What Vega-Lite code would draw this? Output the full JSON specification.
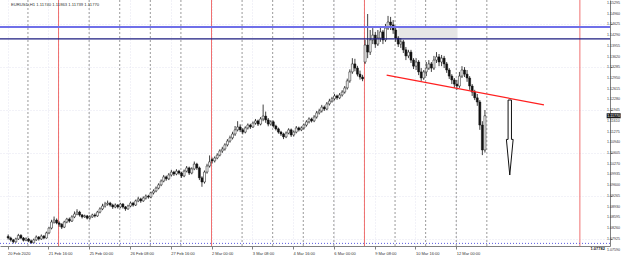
{
  "$schema": "https://vega.github.io/schema/vega-lite/v6.json",
  "width": 610,
  "height": 246,
  "autosize": {"type": "none"},
  "padding": {"left": 0, "top": 0, "right": 15, "bottom": 12},
  "background": "white",
  "config": {"view": {"stroke": null}, "font": "Liberation Sans", "axisX": {"labelOverlap": false, "labelFlush": false, "labelBound": false}},
  "title": {"text": "EURUSD,H1  1.11740 1.11863 1.11739 1.11770", "anchor": "start", "frame": "group", "offset": -8, "dx": 11, "fontSize": 4.2, "fontWeight": "normal", "color": "#333333"},
  "datasets": {
    "bars": [
      {"i":0.5,"o":1.0800,"h":1.0806,"l":1.0790,"c":1.0795},
      {"i":2.5,"o":1.0795,"h":1.0799,"l":1.0784,"c":1.0789},
      {"i":4.5,"o":1.0789,"h":1.0792,"l":1.0778,"c":1.0783},
      {"i":6.5,"o":1.0783,"h":1.0796,"l":1.0780,"c":1.0792},
      {"i":8.5,"o":1.0792,"h":1.0808,"l":1.0789,"c":1.0803},
      {"i":10.5,"o":1.0803,"h":1.0807,"l":1.0791,"c":1.0795},
      {"i":12.5,"o":1.0795,"h":1.0798,"l":1.0784,"c":1.0788},
      {"i":14.5,"o":1.0788,"h":1.0797,"l":1.0785,"c":1.0792},
      {"i":16.5,"o":1.0792,"h":1.0795,"l":1.0782,"c":1.0786},
      {"i":18.5,"o":1.0786,"h":1.0790,"l":1.0777,"c":1.0780},
      {"i":20.5,"o":1.0780,"h":1.0793,"l":1.0778,"c":1.0789},
      {"i":22.5,"o":1.0789,"h":1.0803,"l":1.0786,"c":1.0798},
      {"i":24.5,"o":1.0798,"h":1.0801,"l":1.0787,"c":1.0792},
      {"i":26.5,"o":1.0792,"h":1.0806,"l":1.0789,"c":1.0801},
      {"i":28.5,"o":1.0801,"h":1.0804,"l":1.0791,"c":1.0795},
      {"i":30.5,"o":1.0795,"h":1.0815,"l":1.0793,"c":1.0811},
      {"i":32.5,"o":1.0811,"h":1.0830,"l":1.0807,"c":1.0826},
      {"i":34.5,"o":1.0826,"h":1.0852,"l":1.0822,"c":1.0845},
      {"i":36.5,"o":1.0845,"h":1.0862,"l":1.0840,"c":1.0851},
      {"i":38.5,"o":1.0851,"h":1.0856,"l":1.0838,"c":1.0842},
      {"i":40.5,"o":1.0842,"h":1.0847,"l":1.0830,"c":1.0838},
      {"i":42.5,"o":1.0838,"h":1.0841,"l":1.0823,"c":1.0829},
      {"i":44.5,"o":1.0829,"h":1.0849,"l":1.0826,"c":1.0845},
      {"i":46.5,"o":1.0845,"h":1.0858,"l":1.0841,"c":1.0854},
      {"i":48.5,"o":1.0854,"h":1.0859,"l":1.0843,"c":1.0848},
      {"i":50.5,"o":1.0848,"h":1.0866,"l":1.0845,"c":1.0861},
      {"i":52.5,"o":1.0861,"h":1.0878,"l":1.0857,"c":1.0870},
      {"i":54.5,"o":1.0870,"h":1.0885,"l":1.0866,"c":1.0876},
      {"i":56.5,"o":1.0876,"h":1.0880,"l":1.0862,"c":1.0867},
      {"i":58.5,"o":1.0867,"h":1.0870,"l":1.0856,"c":1.0861},
      {"i":60.5,"o":1.0861,"h":1.0868,"l":1.0858,"c":1.0864},
      {"i":62.5,"o":1.0864,"h":1.0867,"l":1.0853,"c":1.0857},
      {"i":64.5,"o":1.0857,"h":1.0866,"l":1.0852,"c":1.0861},
      {"i":66.5,"o":1.0861,"h":1.0871,"l":1.0858,"c":1.0867},
      {"i":68.5,"o":1.0867,"h":1.0872,"l":1.0859,"c":1.0864},
      {"i":70.5,"o":1.0864,"h":1.0880,"l":1.0861,"c":1.0876},
      {"i":72.5,"o":1.0876,"h":1.0891,"l":1.0872,"c":1.0886},
      {"i":74.5,"o":1.0886,"h":1.0902,"l":1.0882,"c":1.0895},
      {"i":76.5,"o":1.0895,"h":1.0908,"l":1.0890,"c":1.0901},
      {"i":78.5,"o":1.0901,"h":1.0912,"l":1.0896,"c":1.0904},
      {"i":80.5,"o":1.0904,"h":1.0908,"l":1.0893,"c":1.0898},
      {"i":82.5,"o":1.0898,"h":1.0902,"l":1.0886,"c":1.0892},
      {"i":84.5,"o":1.0892,"h":1.0903,"l":1.0888,"c":1.0898},
      {"i":86.5,"o":1.0898,"h":1.0901,"l":1.0887,"c":1.0892},
      {"i":88.5,"o":1.0892,"h":1.0905,"l":1.0888,"c":1.0901},
      {"i":90.5,"o":1.0901,"h":1.0904,"l":1.0887,"c":1.0892},
      {"i":92.5,"o":1.0892,"h":1.0895,"l":1.0880,"c":1.0886},
      {"i":94.5,"o":1.0886,"h":1.0899,"l":1.0883,"c":1.0895},
      {"i":96.5,"o":1.0895,"h":1.0909,"l":1.0891,"c":1.0904},
      {"i":98.5,"o":1.0904,"h":1.0908,"l":1.0893,"c":1.0898},
      {"i":100.5,"o":1.0898,"h":1.0915,"l":1.0895,"c":1.0911},
      {"i":102.5,"o":1.0911,"h":1.0924,"l":1.0907,"c":1.0917},
      {"i":104.5,"o":1.0917,"h":1.0921,"l":1.0905,"c":1.0911},
      {"i":106.5,"o":1.0911,"h":1.0925,"l":1.0908,"c":1.0920},
      {"i":108.5,"o":1.0920,"h":1.0931,"l":1.0915,"c":1.0926},
      {"i":110.5,"o":1.0926,"h":1.0930,"l":1.0918,"c":1.0923},
      {"i":112.5,"o":1.0923,"h":1.0940,"l":1.0919,"c":1.0936},
      {"i":114.5,"o":1.0936,"h":1.0947,"l":1.0931,"c":1.0942},
      {"i":116.5,"o":1.0942,"h":1.0956,"l":1.0938,"c":1.0951},
      {"i":118.5,"o":1.0951,"h":1.0966,"l":1.0947,"c":1.0961},
      {"i":120.5,"o":1.0961,"h":1.0978,"l":1.0957,"c":1.0973},
      {"i":122.5,"o":1.0973,"h":1.0992,"l":1.0969,"c":1.0986},
      {"i":124.5,"o":1.0986,"h":1.0990,"l":1.0974,"c":1.0980},
      {"i":126.5,"o":1.0980,"h":1.0998,"l":1.0976,"c":1.0992},
      {"i":128.5,"o":1.0992,"h":1.1008,"l":1.0987,"c":1.1001},
      {"i":130.5,"o":1.1001,"h":1.1005,"l":1.0989,"c":1.0995},
      {"i":132.5,"o":1.0995,"h":1.1010,"l":1.0991,"c":1.1004},
      {"i":134.5,"o":1.1004,"h":1.1008,"l":1.0993,"c":1.0998},
      {"i":136.5,"o":1.0998,"h":1.1002,"l":1.0983,"c":1.0989},
      {"i":138.5,"o":1.0989,"h":1.1009,"l":1.0985,"c":1.1004},
      {"i":140.5,"o":1.1004,"h":1.1020,"l":1.1000,"c":1.1014},
      {"i":142.5,"o":1.1014,"h":1.1018,"l":1.0992,"c":1.0998},
      {"i":144.5,"o":1.0998,"h":1.1016,"l":1.0994,"c":1.1011},
      {"i":146.5,"o":1.1011,"h":1.1034,"l":1.1007,"c":1.1026},
      {"i":148.5,"o":1.1026,"h":1.1030,"l":1.1008,"c":1.1014},
      {"i":150.5,"o":1.1014,"h":1.1018,"l":1.0976,"c":1.0983},
      {"i":152.5,"o":1.0983,"h":1.0988,"l":1.0955,"c":1.0970},
      {"i":154.5,"o":1.0970,"h":1.1006,"l":1.0965,"c":1.1001},
      {"i":156.5,"o":1.1001,"h":1.1027,"l":1.0996,"c":1.1020},
      {"i":158.5,"o":1.1020,"h":1.1053,"l":1.1015,"c":1.1033},
      {"i":160.5,"o":1.1040,"h":1.1046,"l":1.1028,"c":1.1036},
      {"i":162.5,"o":1.1036,"h":1.1050,"l":1.1031,"c":1.1045},
      {"i":164.5,"o":1.1045,"h":1.1060,"l":1.1041,"c":1.1054},
      {"i":166.5,"o":1.1054,"h":1.1072,"l":1.1050,"c":1.1067},
      {"i":168.5,"o":1.1067,"h":1.1080,"l":1.1061,"c":1.1073},
      {"i":170.5,"o":1.1073,"h":1.1091,"l":1.1068,"c":1.1086},
      {"i":172.5,"o":1.1086,"h":1.1104,"l":1.1081,"c":1.1098},
      {"i":174.5,"o":1.1098,"h":1.1115,"l":1.1093,"c":1.1108},
      {"i":176.5,"o":1.1108,"h":1.1127,"l":1.1103,"c":1.1120},
      {"i":178.5,"o":1.1120,"h":1.1145,"l":1.1114,"c":1.1133},
      {"i":180.5,"o":1.1133,"h":1.1160,"l":1.1128,"c":1.1142},
      {"i":182.5,"o":1.1142,"h":1.1150,"l":1.1126,"c":1.1133},
      {"i":184.5,"o":1.1133,"h":1.1138,"l":1.1119,"c":1.1126},
      {"i":186.5,"o":1.1126,"h":1.1144,"l":1.1122,"c":1.1139},
      {"i":188.5,"o":1.1139,"h":1.1153,"l":1.1134,"c":1.1148},
      {"i":190.5,"o":1.1148,"h":1.1152,"l":1.1136,"c":1.1142},
      {"i":192.5,"o":1.1142,"h":1.1159,"l":1.1139,"c":1.1154},
      {"i":194.5,"o":1.1154,"h":1.1167,"l":1.1149,"c":1.1161},
      {"i":196.5,"o":1.1161,"h":1.1165,"l":1.1145,"c":1.1151},
      {"i":198.5,"o":1.1151,"h":1.1173,"l":1.1147,"c":1.1167},
      {"i":200.5,"o":1.1167,"h":1.1212,"l":1.1160,"c":1.1176},
      {"i":202.5,"o":1.1176,"h":1.1190,"l":1.1155,"c":1.1164},
      {"i":204.5,"o":1.1164,"h":1.1170,"l":1.1144,"c":1.1151},
      {"i":206.5,"o":1.1151,"h":1.1163,"l":1.1146,"c":1.1158},
      {"i":208.5,"o":1.1158,"h":1.1162,"l":1.1140,"c":1.1145},
      {"i":210.5,"o":1.1145,"h":1.1149,"l":1.1131,"c":1.1136},
      {"i":212.5,"o":1.1136,"h":1.1140,"l":1.1121,"c":1.1126},
      {"i":214.5,"o":1.1126,"h":1.1130,"l":1.1114,"c":1.1120},
      {"i":216.5,"o":1.1120,"h":1.1124,"l":1.1104,"c":1.1111},
      {"i":218.5,"o":1.1111,"h":1.1128,"l":1.1107,"c":1.1123},
      {"i":220.5,"o":1.1123,"h":1.1138,"l":1.1119,"c":1.1133},
      {"i":222.5,"o":1.1133,"h":1.1137,"l":1.1111,"c":1.1117},
      {"i":224.5,"o":1.1117,"h":1.1131,"l":1.1112,"c":1.1126},
      {"i":226.5,"o":1.1126,"h":1.1145,"l":1.1122,"c":1.1139},
      {"i":228.5,"o":1.1139,"h":1.1143,"l":1.1128,"c":1.1133},
      {"i":230.5,"o":1.1133,"h":1.1144,"l":1.1129,"c":1.1139},
      {"i":232.5,"o":1.1139,"h":1.1153,"l":1.1134,"c":1.1148},
      {"i":234.5,"o":1.1148,"h":1.1163,"l":1.1143,"c":1.1158},
      {"i":236.5,"o":1.1158,"h":1.1172,"l":1.1153,"c":1.1167},
      {"i":238.5,"o":1.1167,"h":1.1171,"l":1.1156,"c":1.1161},
      {"i":240.5,"o":1.1161,"h":1.1179,"l":1.1157,"c":1.1173},
      {"i":242.5,"o":1.1173,"h":1.1192,"l":1.1168,"c":1.1186},
      {"i":244.5,"o":1.1186,"h":1.1199,"l":1.1181,"c":1.1192},
      {"i":246.5,"o":1.1192,"h":1.1211,"l":1.1187,"c":1.1204},
      {"i":248.5,"o":1.1204,"h":1.1209,"l":1.1192,"c":1.1198},
      {"i":250.5,"o":1.1198,"h":1.1220,"l":1.1194,"c":1.1214},
      {"i":252.5,"o":1.1214,"h":1.1230,"l":1.1209,"c":1.1223},
      {"i":254.5,"o":1.1223,"h":1.1236,"l":1.1218,"c":1.1230},
      {"i":256.5,"o":1.1230,"h":1.1245,"l":1.1225,"c":1.1239},
      {"i":258.5,"o":1.1239,"h":1.1243,"l":1.1227,"c":1.1233},
      {"i":260.5,"o":1.1233,"h":1.1248,"l":1.1229,"c":1.1242},
      {"i":262.5,"o":1.1242,"h":1.1257,"l":1.1237,"c":1.1251},
      {"i":264.5,"o":1.1251,"h":1.1270,"l":1.1246,"c":1.1264},
      {"i":266.5,"o":1.1264,"h":1.1293,"l":1.1259,"c":1.1286},
      {"i":268.5,"o":1.1286,"h":1.1322,"l":1.1280,"c":1.1314},
      {"i":270.5,"o":1.1314,"h":1.1357,"l":1.1308,"c":1.1339},
      {"i":272.5,"o":1.1339,"h":1.1355,"l":1.1316,"c":1.1326},
      {"i":274.5,"o":1.1326,"h":1.1333,"l":1.1300,"c":1.1307},
      {"i":276.5,"o":1.1307,"h":1.1318,"l":1.1290,"c":1.1298},
      {"i":278.5,"o":1.1298,"h":1.1305,"l":1.1285,"c":1.1292},
      {"i":280.5,"o":1.1345,"h":1.1414,"l":1.1339,"c":1.1398},
      {"i":282.5,"o":1.1398,"h":1.1495,"l":1.1357,"c":1.1376},
      {"i":284.5,"o":1.1376,"h":1.1445,"l":1.1367,"c":1.1414},
      {"i":286.5,"o":1.1414,"h":1.1451,"l":1.1401,"c":1.1429},
      {"i":288.5,"o":1.1429,"h":1.1439,"l":1.1389,"c":1.1401},
      {"i":290.5,"o":1.1401,"h":1.1445,"l":1.1395,"c":1.1420},
      {"i":292.5,"o":1.1420,"h":1.1454,"l":1.1408,"c":1.1439},
      {"i":294.5,"o":1.1439,"h":1.1445,"l":1.1401,"c":1.1414},
      {"i":296.5,"o":1.1414,"h":1.1464,"l":1.1408,"c":1.1451},
      {"i":298.5,"o":1.1451,"h":1.1489,"l":1.1445,"c":1.1470},
      {"i":300.5,"o":1.1470,"h":1.1486,"l":1.1445,"c":1.1461},
      {"i":302.5,"o":1.1461,"h":1.1476,"l":1.1433,"c":1.1445},
      {"i":304.5,"o":1.1445,"h":1.1458,"l":1.1408,"c":1.1420},
      {"i":306.5,"o":1.1420,"h":1.1426,"l":1.1392,"c":1.1401},
      {"i":308.5,"o":1.1401,"h":1.1420,"l":1.1389,"c":1.1408},
      {"i":310.5,"o":1.1408,"h":1.1414,"l":1.1373,"c":1.1383},
      {"i":312.5,"o":1.1383,"h":1.1392,"l":1.1351,"c":1.1364},
      {"i":314.5,"o":1.1364,"h":1.1383,"l":1.1357,"c":1.1376},
      {"i":316.5,"o":1.1376,"h":1.1383,"l":1.1342,"c":1.1351},
      {"i":318.5,"o":1.1351,"h":1.1357,"l":1.1323,"c":1.1332},
      {"i":320.5,"o":1.1332,"h":1.1357,"l":1.1320,"c":1.1345},
      {"i":322.5,"o":1.1345,"h":1.1351,"l":1.1304,"c":1.1314},
      {"i":324.5,"o":1.1314,"h":1.1326,"l":1.1286,"c":1.1295},
      {"i":326.5,"o":1.1295,"h":1.1320,"l":1.1289,"c":1.1314},
      {"i":328.5,"o":1.1314,"h":1.1345,"l":1.1301,"c":1.1326},
      {"i":330.5,"o":1.1326,"h":1.1351,"l":1.1320,"c":1.1339},
      {"i":332.5,"o":1.1339,"h":1.1345,"l":1.1314,"c":1.1326},
      {"i":334.5,"o":1.1326,"h":1.1364,"l":1.1320,"c":1.1351},
      {"i":336.5,"o":1.1351,"h":1.1376,"l":1.1342,"c":1.1361},
      {"i":338.5,"o":1.1361,"h":1.1370,"l":1.1332,"c":1.1345},
      {"i":340.5,"o":1.1345,"h":1.1367,"l":1.1332,"c":1.1357},
      {"i":342.5,"o":1.1357,"h":1.1364,"l":1.1326,"c":1.1339},
      {"i":344.5,"o":1.1339,"h":1.1345,"l":1.1311,"c":1.1320},
      {"i":346.5,"o":1.1320,"h":1.1326,"l":1.1292,"c":1.1301},
      {"i":348.5,"o":1.1301,"h":1.1307,"l":1.1276,"c":1.1289},
      {"i":350.5,"o":1.1289,"h":1.1295,"l":1.1264,"c":1.1276},
      {"i":352.5,"o":1.1276,"h":1.1289,"l":1.1258,"c":1.1270},
      {"i":354.5,"o":1.1270,"h":1.1314,"l":1.1264,"c":1.1301},
      {"i":356.5,"o":1.1301,"h":1.1332,"l":1.1295,"c":1.1320},
      {"i":358.5,"o":1.1320,"h":1.1329,"l":1.1298,"c":1.1307},
      {"i":360.5,"o":1.1307,"h":1.1320,"l":1.1283,"c":1.1295},
      {"i":362.5,"o":1.1295,"h":1.1301,"l":1.1258,"c":1.1270},
      {"i":364.5,"o":1.1270,"h":1.1276,"l":1.1239,"c":1.1251},
      {"i":366.5,"o":1.1251,"h":1.1258,"l":1.1226,"c":1.1233},
      {"i":368.5,"o":1.1233,"h":1.1245,"l":1.1208,"c":1.1220},
      {"i":370.5,"o":1.1220,"h":1.1226,"l":1.1133,"c":1.1148},
      {"i":372.5,"o":1.1148,"h":1.1160,"l":1.1054,"c":1.1070},
      {"i":374.5,"o":1.1070,"h":1.1195,"l":1.1062,"c":1.1177}
    ],
    "days": [{"t":16},{"t":40},{"t":64},{"t":88},{"t":112},{"t":136},{"t":160},{"t":184},{"t":208},{"t":232},{"t":256},{"t":280},{"t":304},{"t":328},{"t":352},{"t":376}],
    "vlines": [{"t":40},{"t":160},{"t":280},{"t":449}],
    "hlines": [{"name":"upper","price":1.1454},{"name":"lower","price":1.1417},{"name":"low","price":1.07782}],
    "zone": [{"t1":306.5,"t2":353,"p1":1.1417,"p2":1.1454}],
    "trend": [{"t1":297.4,"p1":1.1304,"t2":420.8,"p2":1.1211}],
    "arrow": [{"t":394,"price":1.1109}],
    "bid": [{"price":1.1177}],
    "yticks": [{"v":1.0759},{"v":1.07925},{"v":1.0826},{"v":1.08595},{"v":1.0893},{"v":1.09265},{"v":1.096},{"v":1.09935},{"v":1.1027},{"v":1.10605},{"v":1.1094},{"v":1.11275},{"v":1.1161},{"v":1.11945},{"v":1.1228},{"v":1.12615},{"v":1.1295},{"v":1.13285},{"v":1.1362},{"v":1.13955},{"v":1.1429},{"v":1.14625},{"v":1.1496},{"v":1.15295}]
  },
  "layer": [
    {
      "data": {"name": "days"},
      "mark": {"type": "rule", "color": "#9a9a9a", "strokeWidth": 1, "strokeDash": [2, 2]},
      "encoding": {
        "x": {"field": "t", "type": "quantitative", "title": null,
          "scale": {"domain": [-2, 468.7], "nice": false, "zero": false},
          "axis": {
            "values": [0,16,32,48,64,80,96,112,128,144,160,176,192,208,224,240,256,272,288,304,320,336,352,368],
            "labelExpr": "['20 Feb 2020','21 Feb 00:00','21 Feb 16:00','24 Feb 08:00','25 Feb 00:00','25 Feb 16:00','26 Feb 08:00','27 Feb 00:00','27 Feb 16:00','28 Feb 08:00','2 Mar 00:00','2 Mar 16:00','3 Mar 08:00','4 Mar 00:00','4 Mar 16:00','5 Mar 08:00','6 Mar 00:00','6 Mar 16:00','9 Mar 08:00','10 Mar 00:00','10 Mar 16:00','11 Mar 08:00','12 Mar 00:00','12 Mar 16:00'][round(datum.value/16)]",
            "labelAlign": "left", "labelBaseline": "top", "labelFontSize": 4, "labelColor": "#333333",
            "labelPadding": 2, "labelFlush": false, "labelOverlap": false, "labelBound": false,
            "tickSize": 3, "tickColor": "#808080", "domainColor": "#808080",
            "grid": true, "gridColor": "#e4e4f0", "gridDash": [1, 2], "title": null
          }
        }
      }
    },
    {
      "data": {"name": "zone"},
      "mark": {"type": "rect", "color": "#e6e6e6"},
      "encoding": {
        "x": {"field": "t1", "type": "quantitative", "title": null, "scale": {"domain": [-2, 468.7], "nice": false, "zero": false}},
        "x2": {"field": "t2"},
        "y": {"field": "p1", "type": "quantitative", "title": null,
          "scale": {"domain": [1.0770, 1.153875], "nice": false, "zero": false},
          "axis": {
            "orient": "right",
            "values": [1.0759,1.07925,1.0826,1.08595,1.0893,1.09265,1.096,1.09935,1.1027,1.10605,1.1094,1.11275,1.1161,1.11945,1.1228,1.12615,1.1295,1.13285,1.1362,1.13955,1.1429,1.14625,1.1496,1.15295],
            "labels": false,
            "tickSize": 2, "tickColor": "#808080", "domainColor": "#808080",
            "grid": true, "gridColor": "#e4e4f0", "gridDash": [1, 2], "title": null
          }
        },
        "y2": {"field": "p2"}
      }
    },
    {
      "data": {"name": "vlines"},
      "mark": {"type": "rule", "color": "#f07070", "strokeWidth": 1},
      "encoding": {
        "x": {"field": "t", "type": "quantitative", "title": null, "scale": {"domain": [-2, 468.7], "nice": false, "zero": false}}
      }
    },
    {
      "data": {"name": "bars"},
      "mark": {"type": "rule", "color": "#111111", "strokeWidth": 0.8},
      "encoding": {
        "x": {"field": "i", "type": "quantitative", "title": null, "scale": {"domain": [-2, 468.7], "nice": false, "zero": false}},
        "y": {"field": "l", "type": "quantitative", "title": null, "axis": {"orient": "right"}, "scale": {"domain": [1.0770, 1.153875], "nice": false, "zero": false}},
        "y2": {"field": "h"}
      }
    },
    {
      "data": {"name": "bars"},
      "mark": {"type": "bar", "size": 2, "stroke": "#111111", "strokeWidth": 0.5},
      "encoding": {
        "x": {"field": "i", "type": "quantitative", "title": null, "scale": {"domain": [-2, 468.7], "nice": false, "zero": false}},
        "y": {"field": "o", "type": "quantitative", "title": null, "axis": {"orient": "right"}, "scale": {"domain": [1.0770, 1.153875], "nice": false, "zero": false}},
        "y2": {"field": "c"},
        "fill": {"condition": {"test": "datum.c >= datum.o", "value": "#ffffff"}, "value": "#111111"}
      }
    },
    {
      "data": {"name": "hlines"},
      "transform": [{"filter": "datum.name === 'upper'"}],
      "mark": {"type": "rule", "color": "#7070e8", "strokeWidth": 2},
      "encoding": {
        "y": {"field": "price", "type": "quantitative", "title": null, "axis": {"orient": "right"}, "scale": {"domain": [1.0770, 1.153875], "nice": false, "zero": false}}
      }
    },
    {
      "data": {"name": "hlines"},
      "transform": [{"filter": "datum.name === 'lower'"}],
      "mark": {"type": "rule", "color": "#1c1c80", "strokeWidth": 1.2},
      "encoding": {
        "y": {"field": "price", "type": "quantitative", "title": null, "axis": {"orient": "right"}, "scale": {"domain": [1.0770, 1.153875], "nice": false, "zero": false}}
      }
    },
    {
      "data": {"name": "hlines"},
      "transform": [{"filter": "datum.name === 'low'"}],
      "mark": {"type": "rule", "color": "#5a5ae0", "strokeWidth": 1, "strokeDash": [1, 2]},
      "encoding": {
        "y": {"field": "price", "type": "quantitative", "title": null, "axis": {"orient": "right"}, "scale": {"domain": [1.0770, 1.153875], "nice": false, "zero": false}}
      }
    },
    {
      "data": {"name": "hlines"},
      "transform": [{"filter": "datum.name === 'low'"}],
      "mark": {"type": "text", "color": "#111111", "fontSize": 4, "fontWeight": "bold", "align": "right", "baseline": "middle", "dy": 6},
      "encoding": {
        "x": {"datum": 468.7, "type": "quantitative", "title": null, "scale": {"domain": [-2, 468.7], "nice": false, "zero": false}},
        "y": {"field": "price", "type": "quantitative", "title": null, "axis": {"orient": "right"}, "scale": {"domain": [1.0770, 1.153875], "nice": false, "zero": false}},
        "text": {"field": "price", "format": ".5f"}
      }
    },
    {
      "data": {"name": "trend"},
      "mark": {"type": "rule", "color": "#ff2020", "strokeWidth": 1.3},
      "encoding": {
        "x": {"field": "t1", "type": "quantitative", "title": null, "scale": {"domain": [-2, 468.7], "nice": false, "zero": false}},
        "x2": {"field": "t2"},
        "y": {"field": "p1", "type": "quantitative", "title": null, "axis": {"orient": "right"}, "scale": {"domain": [1.0770, 1.153875], "nice": false, "zero": false}},
        "y2": {"field": "p2"}
      }
    },
    {
      "data": {"name": "arrow"},
      "mark": {"type": "point", "filled": true, "fill": "#ffffff", "stroke": "#111111", "strokeWidth": 1, "opacity": 1, "size": 5625,
        "shape": "M-0.045,-1L0.045,-1L0.045,0.05L0.09,0.05L0,1L-0.09,0.05L-0.045,0.05Z"},
      "encoding": {
        "x": {"field": "t", "type": "quantitative", "title": null, "scale": {"domain": [-2, 468.7], "nice": false, "zero": false}},
        "y": {"field": "price", "type": "quantitative", "title": null, "axis": {"orient": "right"}, "scale": {"domain": [1.0770, 1.153875], "nice": false, "zero": false}}
      }
    },
    {
      "data": {"name": "yticks"},
      "mark": {"type": "text", "color": "#333333", "fontSize": 3.6, "align": "left", "baseline": "middle"},
      "encoding": {
        "x": {"datum": 470.3, "type": "quantitative", "title": null, "scale": {"domain": [-2, 468.7], "nice": false, "zero": false}},
        "y": {"field": "v", "type": "quantitative", "title": null, "axis": {"orient": "right"}, "scale": {"domain": [1.0770, 1.153875], "nice": false, "zero": false}},
        "text": {"field": "v", "format": ".5f"}
      }
    },
    {
      "data": {"name": "bid"},
      "mark": {"type": "point", "filled": true, "fill": "#1a1a1a", "stroke": null, "opacity": 1, "size": 196,
        "shape": "M-1,-0.36L1,-0.36L1,0.36L-1,0.36Z"},
      "encoding": {
        "x": {"datum": 475.5, "type": "quantitative", "title": null, "scale": {"domain": [-2, 468.7], "nice": false, "zero": false}},
        "y": {"field": "price", "type": "quantitative", "title": null, "axis": {"orient": "right"}, "scale": {"domain": [1.0770, 1.153875], "nice": false, "zero": false}}
      }
    },
    {
      "data": {"name": "bid"},
      "mark": {"type": "text", "color": "#ffffff", "fontSize": 3.6, "align": "center", "baseline": "middle"},
      "encoding": {
        "x": {"datum": 475.5, "type": "quantitative", "title": null, "scale": {"domain": [-2, 468.7], "nice": false, "zero": false}},
        "y": {"field": "price", "type": "quantitative", "title": null, "axis": {"orient": "right"}, "scale": {"domain": [1.0770, 1.153875], "nice": false, "zero": false}},
        "text": {"field": "price", "format": ".5f"}
      }
    }
  ]
}
